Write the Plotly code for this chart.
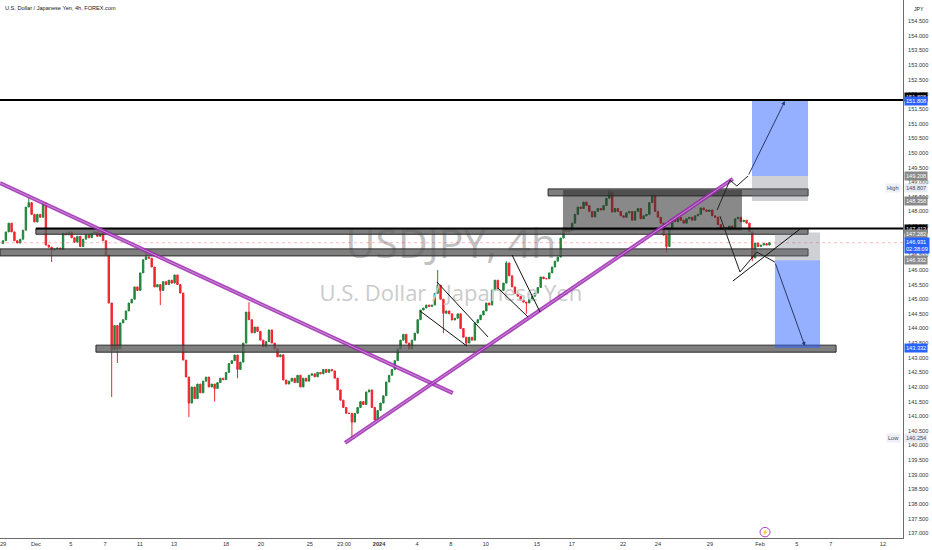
import plotly.graph_objects as go

# ---------------- data ----------------
closes = [
    147.00, 147.30, 147.60, 147.30, 147.00, 146.92, 147.05, 147.36, 148.15, 148.30,
    147.90, 147.64, 147.90, 147.80, 148.29, 146.85, 146.78, 146.68, 146.72, 146.75,
    146.70, 147.26, 147.20, 147.30, 147.10, 146.95, 147.15, 146.80, 147.05, 147.20,
    147.10, 147.25, 147.30, 147.15, 147.25, 147.00, 146.51, 144.87, 143.27, 144.10,
    143.30, 144.19, 144.30, 144.60, 144.87, 145.00, 145.42, 145.30, 145.90, 146.35,
    146.44, 146.40, 146.10, 145.42, 145.50, 145.30, 145.60, 145.50, 145.65, 145.55,
    145.83, 145.50, 145.21, 142.92, 142.34, 141.45, 142.00, 141.60, 142.10, 141.80,
    142.20, 142.34, 142.00, 142.10, 141.95, 142.15, 142.30, 142.25, 142.50, 142.80,
    142.90, 143.09, 142.60, 142.85, 143.50, 144.56, 144.30, 143.85, 144.05, 143.90,
    143.60, 143.37, 143.55, 143.95, 143.50, 143.30, 143.03, 143.10, 142.24, 142.10,
    142.20, 142.30, 142.15, 142.40, 142.00, 142.30, 142.20, 142.40, 142.45, 142.35,
    142.50, 142.45, 142.60, 142.50, 142.60, 142.55, 142.30, 141.90, 141.55, 141.30,
    141.10, 141.10, 140.80, 141.10, 141.30, 141.50, 141.40, 141.83, 141.90, 141.30,
    140.87, 141.20, 141.45, 141.70, 142.17, 142.40, 142.60, 142.90, 143.30, 143.60,
    143.80, 143.50, 143.30, 143.60, 143.84, 144.30, 144.63, 144.70, 144.80, 144.75,
    144.80, 145.20, 145.48, 145.00, 144.52, 144.60, 144.50, 144.29, 144.35, 144.50,
    144.00, 143.70, 143.50, 143.70, 143.60, 144.19, 144.30, 144.46, 144.60, 144.87,
    144.80, 145.31, 145.65, 145.30, 145.30, 145.55, 146.24, 145.80, 145.42, 145.20,
    145.10, 144.97, 144.90, 144.87, 145.00, 145.10, 145.21, 145.40, 145.76, 145.70,
    145.70, 145.90, 146.10, 146.30, 146.44, 147.09, 147.43, 147.30, 147.35, 147.60,
    147.90, 148.15, 148.10, 148.32, 148.20, 148.00, 147.81, 148.00, 148.10, 148.05,
    148.20, 148.45, 148.66, 147.98, 148.10, 148.00, 147.85, 147.80, 147.95, 148.00,
    147.70, 148.00, 148.10, 147.75, 147.85, 147.90, 148.30, 148.56, 148.00, 147.80,
    147.60, 147.19, 146.80, 147.40, 147.71, 147.65, 147.80, 147.70, 147.60, 147.75,
    147.80, 147.70, 147.85, 147.90, 148.12, 148.05, 148.00, 148.05, 147.85, 147.80,
    147.55, 147.40, 147.45, 147.40, 147.50, 147.45, 147.75, 147.80, 147.65, 147.70,
    147.60, 147.30, 146.41, 146.92, 146.80, 146.85, 146.90, 146.85, 146.93,
]
first_open = 146.90
wick_highs = {9: 148.46, 50: 146.60, 86: 144.90, 152: 146.00, 212: 148.75, 176: 146.30}
wick_lows = {17: 146.27, 38: 141.66, 40: 142.82, 55: 144.80, 65: 140.97, 74: 141.50,
             82: 142.30, 122: 140.254, 154: 143.84, 162: 143.40, 183: 144.50, 232: 146.60,
             262: 146.30}

tick_pos = [0, 11.5, 23.7, 35.7, 47.9, 59.8, 78, 90.2, 107.3, 119.2, 131.5, 144.8, 156.6,
            168.8, 186.7, 198.9, 216.8, 229, 247.2, 264.7, 277.6, 289.5, 307.7]
tick_text = ["29", "Dec", "5", "7", "11", "13", "18", "20", "25", "23:00", "<b>2024</b>", "4", "8",
             "10", "15", "17", "22", "24", "29", "Feb", "5", "7", "12"]

# drawings (bar index, price)
level_lines = [(-1.05, 151.808), (11.5, 147.413)]
bands = [(11.5, 281.5, 147.413, 147.22), (-1.05, 281.5, 146.72, 146.48),
         (32.5, 291.3, 143.43, 143.19), (190.6, 281.5, 148.77, 148.53)]
range_box = (195.8, 258.4, 148.73, 147.36)
long_pos = (261.9, 281.5, 151.808, 149.208, 148.358)
short_pos = (269.9, 285.7, 147.282, 146.332, 143.332)
trend_down = [(-1.05, 148.97), (157.3, 141.79)]
trend_up = [(119.6, 140.09), (255.2, 149.11)]
flag_lines = [[(145.8, 144.60), (162.2, 143.40)], [(151.7, 145.59), (169.6, 143.71)],
              [(173.1, 145.38), (183.6, 144.39)], [(178.0, 146.51), (187.8, 144.56)],
              [(255.2, 145.62), (278.7, 147.40)]]
zig_up = [(249.7, 148.05), (254.2, 149.07), (256.6, 148.87), (260.5, 149.21)]
zig_up_arrow = (273.4, 151.77)
zig_dn = [(250.7, 147.84), (257.7, 145.93), (263.6, 146.61), (269.9, 146.27)]
zig_dn_arrow = (280.4, 143.40)
last_price = 146.931

# ---------------- build ----------------
idx = list(range(len(closes)))
opens = [first_open] + closes[:-1]
highs = [max(o, c) for o, c in zip(opens, closes)]
lows = [min(o, c) for o, c in zip(opens, closes)]
for k, v in wick_highs.items():
    highs[k] = max(highs[k], v)
for k, v in wick_lows.items():
    lows[k] = min(lows[k], v)

UP = "#23843d"
DN = "#f0252f"
FONT = "Liberation Sans"
FS = 5.6
X_END = 314.7

fig = go.Figure()
fig.add_trace(go.Scatter(x=[156.6, 156.6], y=[146.75, 145.12], mode="text",
                         text=["USDJPY, 4h", "U.S. Dollar / Japanese Yen"],
                         textfont=dict(size=[41, 22], color=["#c2c2c2", "#cbcbcb"], family="Open Sans"),
                         hoverinfo="skip", showlegend=False))
fig.add_trace(go.Candlestick(x=idx, open=opens, high=highs, low=lows, close=closes,
                             increasing=dict(line=dict(color=UP, width=1), fillcolor=UP),
                             decreasing=dict(line=dict(color=DN, width=1), fillcolor=DN),
                             whiskerwidth=0, showlegend=False, hoverinfo="skip"))

shapes = []
shapes.append(dict(type="line", xref="paper", x0=0, x1=1, y0=last_price, y1=last_price,
                   line=dict(color="rgba(242,54,69,0.35)", width=1, dash="dot")))
for x0, x1, y0, y1 in bands:
    shapes.append(dict(type="rect", x0=x0, x1=x1, y0=y0, y1=y1,
                       fillcolor="rgba(95,95,95,0.8)", line=dict(color="#2a2a2a", width=1)))
x0, x1, y0, y1 = range_box
shapes.append(dict(type="rect", x0=x0, x1=x1, y0=y0, y1=y1,
                   fillcolor="rgba(40,40,40,0.55)", line=dict(width=0)))
x0, x1, tp, entry, sl = long_pos
shapes.append(dict(type="rect", x0=x0, x1=x1, y0=entry, y1=tp,
                   fillcolor="rgba(41,98,255,0.5)", line=dict(width=0)))
shapes.append(dict(type="rect", x0=x0, x1=x1, y0=sl, y1=entry,
                   fillcolor="rgba(120,123,134,0.35)", line=dict(width=0)))
x0, x1, sl, entry, tp = short_pos
shapes.append(dict(type="rect", x0=x0, x1=x1, y0=entry, y1=sl,
                   fillcolor="rgba(120,123,134,0.35)", line=dict(width=0)))
shapes.append(dict(type="rect", x0=x0, x1=x1, y0=tp, y1=entry,
                   fillcolor="rgba(41,98,255,0.5)", line=dict(width=0)))
for x0, y in level_lines:
    shapes.append(dict(type="line", x0=x0, x1=X_END, y0=y, y1=y,
                       line=dict(color="#000000", width=2)))
for (a, b) in [trend_down, trend_up]:
    shapes.append(dict(type="line", x0=a[0], y0=a[1], x1=b[0], y1=b[1],
                       line=dict(color="rgba(156,39,176,0.85)", width=4)))
    shapes.append(dict(type="line", x0=a[0], y0=a[1], x1=b[0], y1=b[1],
                       line=dict(color="rgba(206,147,216,0.9)", width=1)))
for seg in flag_lines:
    shapes.append(dict(type="line", x0=seg[0][0], y0=seg[0][1], x1=seg[1][0], y1=seg[1][1],
                       line=dict(color="#111111", width=1)))
for pts in [zig_up, zig_dn]:
    for a, b in zip(pts[:-1], pts[1:]):
        shapes.append(dict(type="line", x0=a[0], y0=a[1], x1=b[0], y1=b[1],
                           line=dict(color="#222222", width=1)))
shapes.append(dict(type="circle", x0=264.7, x1=268.2, y0=136.88, y1=137.2,
                   line=dict(color="#ab47bc", width=1), fillcolor="white"))
fig.update_layout(shapes=shapes)

ann = []
for tip, base in [(zig_up_arrow, zig_up[-1]), (zig_dn_arrow, zig_dn[-1])]:
    ann.append(dict(x=tip[0], y=tip[1], ax=base[0], ay=base[1], xref="x", yref="y",
                    axref="x", ayref="y", showarrow=True, arrowhead=2, arrowsize=0.8,
                    arrowwidth=1, arrowcolor="#2b3a67", text=""))

def axis_label(price, text, bg, fg="white", yshift=0):
    ann.append(dict(xref="paper", x=1.0, xshift=1, xanchor="left", yref="y", y=price,
                    yshift=yshift, text=text, showarrow=False, bgcolor=bg,
                    font=dict(size=FS, color=fg, family=FONT), borderpad=1, align="left"))

axis_label(151.808, "151.808", "#000000", yshift=3)
axis_label(151.808, "151.808", "#2962ff", yshift=-1)
axis_label(149.208, "149.208", "#8a8a8a")
axis_label(148.807, "148.807", "#e8ebf2", fg="#3b4a6b")
axis_label(148.358, "148.358", "#8a8a8a")
axis_label(147.413, "147.413", "#000000")
axis_label(147.282, "147.282", "#8a8a8a", yshift=-2)
axis_label(last_price, "146.931<br>02:38:09", "#2962ff", yshift=-3)
axis_label(146.332, "146.332", "#8a8a8a")
axis_label(143.332, "143.332", "#2962ff")
axis_label(140.254, "140.254", "#e8ebf2", fg="#3b4a6b")
for price, txt in [(148.807, "High"), (140.254, "Low")]:
    ann.append(dict(xref="paper", x=1.0, xshift=-2, xanchor="right", yref="y", y=price,
                    text=txt, showarrow=False, bgcolor="#eef0f5",
                    font=dict(size=FS, color="#3b4a6b", family=FONT), borderpad=1))
ann.append(dict(xref="paper", yref="paper", x=0.003, y=0.994, xanchor="left", yanchor="top",
                text="U.S. Dollar / Japanese Yen, 4h, FOREX.com", showarrow=False,
                font=dict(size=5.6, color="#131722", family=FONT)))
ann.append(dict(xref="paper", yref="paper", x=1.0, xshift=1, y=1.0, xanchor="left", yanchor="top",
                text="JPY", showarrow=False, bgcolor="white", width=26, height=13, align="center",
                font=dict(size=5.2, color="#131722", family=FONT)))
ann.append(dict(x=266.45, y=137.04, xref="x", yref="y", text="⚡", showarrow=False,
                font=dict(size=5, color="#ab47bc")))
fig.update_layout(annotations=ann)

fig.update_layout(
    width=932, height=550, margin=dict(l=0, r=29, t=0, b=12, autoexpand=False),
    paper_bgcolor="white", plot_bgcolor="white",
    font=dict(family=FONT, size=FS, color="#333"),
    xaxis=dict(range=[-1.05, X_END], tickmode="array", tickvals=tick_pos, ticktext=tick_text,
               showgrid=False, zeroline=False, showline=True, linecolor="#6b6b6b", linewidth=1,
               ticks="", tickfont=dict(size=FS, color="#333"), rangeslider=dict(visible=False),
               fixedrange=True, automargin=False, ticklabeloverflow="allow"),
    yaxis=dict(side="right", range=[136.839, 155.226], dtick=0.5, tick0=137, tickformat=".3f",
               showgrid=False, zeroline=False, showline=True, linecolor="#6b6b6b", linewidth=1,
               ticks="", ticklabelstandoff=3, tickfont=dict(size=FS, color="#333"),
               fixedrange=True, automargin=False),
    showlegend=False,
)

fig.write_html("out.html", config={"displayModeBar": False},
               post_script="document.body.style.margin='0';document.body.style.overflow='hidden';")
